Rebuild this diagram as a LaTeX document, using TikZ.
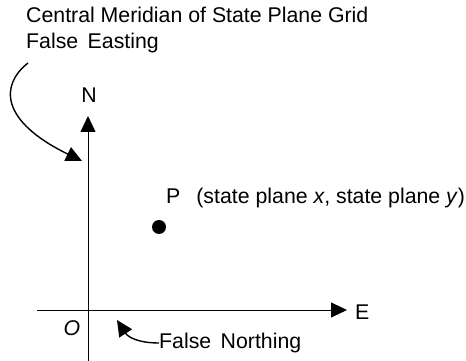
\documentclass[tikz,border=0pt]{standalone}
\usepackage{fontspec}
\setmainfont{Liberation Sans}
\usetikzlibrary{arrows.meta}
\begin{document}
\begin{tikzpicture}[x=1pt,y=1pt,
  lbl/.style={inner sep=0pt,font=\fontsize{21.3}{24}\selectfont},
  axis/.style={line width=0.9pt,-{Triangle[length=16pt,width=15pt]}},
  bent/.style={line width=1.4pt,-{Triangle[length=16pt,width=15pt]}}]
\useasboundingbox (0,0) rectangle (466,361);
% axes
\coordinate (vb) at (88,0);
\coordinate (vt) at (88,245);
\coordinate (hl) at (37,51);
\coordinate (hr) at (347,51);
\draw[axis] (vb) -- (vt);
\draw[axis] (hl) -- (hr);
\node[lbl] (N) at (89,266) {N};
\node[lbl,anchor=west] (E) at (355,49) {E};
\node[lbl] (O) at (72,33) {\itshape O};
% point P
\node[circle,fill,inner sep=0pt,minimum size=14pt] (P) at (159,134) {};
\node[lbl,anchor=west] (Pl) at (166,163) {P\hspace{16pt}(state plane \textit{x}, state plane \textit{y})};
% top text
\node[lbl,anchor=west] (t1) at (26,346) {Central Meridian of State Plane Grid};
\node[lbl,anchor=west] (t2) at (26,318) {False\, Easting};
\coordinate (ea) at (82,200);
\draw[bent] (28,298) .. controls (0,276) and (0,240) .. (ea);
% false northing
\node[lbl,anchor=west] (fn) at (159,18) {False\, Northing};
\coordinate (na) at (117,41);
\draw[bent] (fn.west) .. controls (138,18) and (128,24) .. (na);
\end{tikzpicture}
\end{document}
